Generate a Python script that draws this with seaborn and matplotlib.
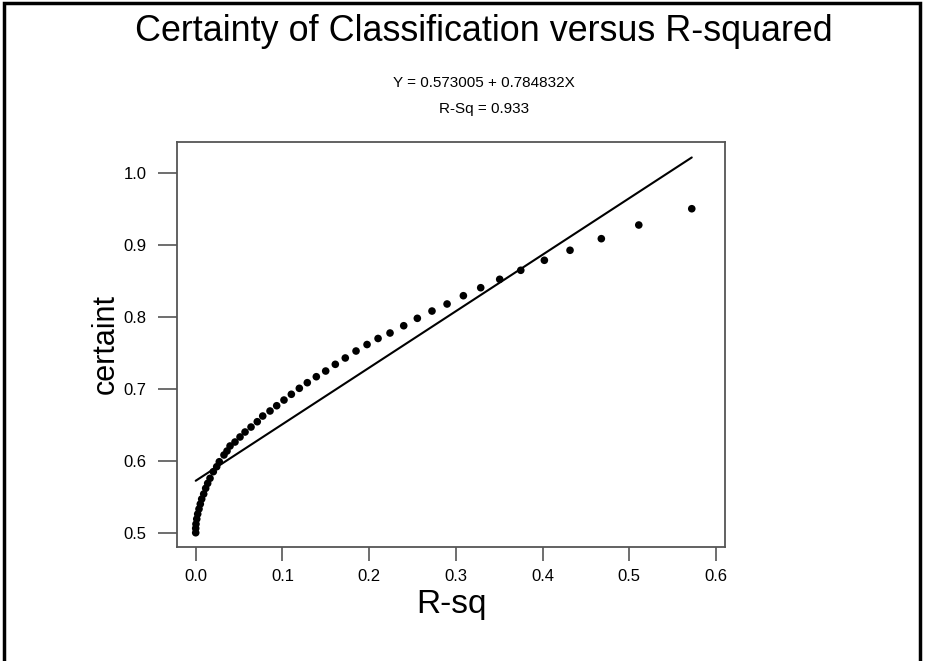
import numpy as np
import pandas as pd
import matplotlib
matplotlib.use("Agg")
import matplotlib.pyplot as plt
from matplotlib.patches import Rectangle
import seaborn as sns

# --- data ---
r_sq = [0.5721, 0.5110, 0.4678, 0.4317, 0.4021, 0.3749, 0.3506, 0.3287, 0.3087,
        0.2899, 0.2725, 0.2556, 0.2399, 0.2241, 0.2103, 0.1976, 0.1849, 0.1725,
        0.1610, 0.1499, 0.1391, 0.1287, 0.1195, 0.1103, 0.1018, 0.0934, 0.0857,
        0.0773, 0.0710, 0.0638, 0.0569, 0.0511, 0.0453, 0.0396, 0.0361, 0.0326,
        0.0272, 0.0242, 0.0203, 0.0165, 0.0138, 0.0115, 0.0092, 0.0069, 0.0053,
        0.0038, 0.0023, 0.0012, 0.0003, 0.0000, 0.0000]
certainty = [0.9508, 0.9282, 0.9092, 0.8931, 0.8792, 0.8653, 0.8528, 0.8411, 0.8300,
             0.8185, 0.8087, 0.7986, 0.7883, 0.7782, 0.7706, 0.7622, 0.7532, 0.7435,
             0.7347, 0.7254, 0.7175, 0.7092, 0.7014, 0.6931, 0.6851, 0.6772, 0.6699,
             0.6629, 0.6550, 0.6476, 0.6407, 0.6338, 0.6268, 0.6213, 0.6143, 0.6088,
             0.5994, 0.5925, 0.5856, 0.5764, 0.5694, 0.5625, 0.5546, 0.5476, 0.5407,
             0.5338, 0.5268, 0.5199, 0.5129, 0.5069, 0.5008]
intercept = 0.573005
slope = 0.784832
r_sq_fit = 0.933

x_ticks = [0.0, 0.1, 0.2, 0.3, 0.4, 0.5, 0.6]
y_ticks = [0.5, 0.6, 0.7, 0.8, 0.9, 1.0]

df = pd.DataFrame({"R-sq": r_sq, "certaint": certainty})
x_line = np.array([df["R-sq"].min(), df["R-sq"].max()])
fit_df = pd.DataFrame({"R-sq": x_line, "certaint": intercept + slope * x_line})

sns.set_theme(style="white")
plt.rcParams['font.family'] = ['Liberation Sans', 'DejaVu Sans']
plt.rcParams['text.color'] = 'black'
plt.rcParams['axes.labelcolor'] = 'black'
plt.rcParams['xtick.color'] = 'black'
plt.rcParams['ytick.color'] = 'black'

fig = plt.figure(figsize=(9.26, 6.61), dpi=100)
ax = fig.add_axes([0.1915, 0.1729, 0.5915, 0.6123])

sns.lineplot(data=fit_df, x="R-sq", y="certaint", color="black", lw=1.5, ax=ax)
sns.scatterplot(data=df, x="R-sq", y="certaint", color="black", s=30,
                edgecolor="none", ax=ax, zorder=3)

ax.set_xlim(-0.0212, 0.6105)
ax.set_ylim(0.4814, 1.0435)
ax.set_xticks(x_ticks)
ax.set_yticks(y_ticks)
ax.set_xticklabels([f"{v:.1f}" for v in x_ticks])
ax.set_yticklabels([f"{v:.1f}" for v in y_ticks])
ax.tick_params(axis="x", direction="out", length=10, width=1.2, color="#555555",
               labelsize=12, pad=6, bottom=True)
ax.tick_params(axis="y", direction="out", length=14, width=1.2, color="#555555",
               labelsize=12, pad=8, left=True)
for sp in ax.spines.values():
    sp.set_color("#555555")
    sp.set_linewidth(1.3)

ax.set_xlabel("R-sq", fontsize=24, labelpad=4)
ax.set_ylabel("certaint", fontsize=22, labelpad=2)

fig.text(0.523, 0.953, "Certainty of Classification versus R-squared",
         ha="center", va="center", fontsize=25.8)
fig.text(0.523, 0.874, f"Y = {intercept:.6f} + {slope:.6f}X",
         ha="center", va="center", fontsize=11)
fig.text(0.523, 0.835, f"R-Sq = {r_sq_fit:.3f}",
         ha="center", va="center", fontsize=11)

# page frame (open at the bottom)
fig.patches.append(Rectangle((4 / 926, -0.05), (920 - 4) / 926, 1.05 - 3 / 661,
                             transform=fig.transFigure, fill=False,
                             lw=2.5, ec="black"))

fig.savefig("out.png", dpi=100)
